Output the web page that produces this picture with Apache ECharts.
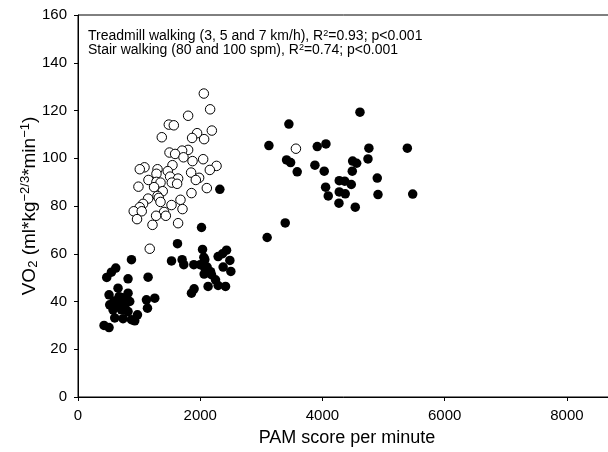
<!DOCTYPE html>
<html>
<head>
    <meta charset="UTF-8">
    <script type="text/javascript" src="https://cdn.jsdelivr.net/npm/echarts@6/dist/echarts.min.js"></script>
</head>
<body style="margin: 0;padding: 0;">
<div id="main" style="width: 608px;height:452px;"></div>
<script>
    // stair walking (open circles): [PAM score/min, VO2]
    var stairPoints = [
        [2059, 127.1], [2162, 120.5], [1802, 117.8], [1486, 114.1], [1568, 113.8], [2190, 111.6],
        [1949, 110.5], [1371, 108.8], [1867, 108.5], [2064, 108], [1802, 103.5], [1704, 103.2],
        [1497, 102.4], [1589, 101.8], [1726, 100.4], [2048, 99.6], [1874, 98.8], [1546, 97.1],
        [2267, 96.8], [1088, 96.2], [1011, 95.4], [1301, 95.4], [2157, 95.1], [1469, 94.6],
        [1851, 94], [1284, 93.5], [1507, 92.3], [1982, 91.8], [1153, 90.9], [1638, 91.5],
        [1928, 90.9], [1284, 90.1], [1350, 89.8], [1535, 89.8], [1622, 89.3], [989, 88.1],
        [1245, 87.9], [2108, 87.5], [1387, 86.2], [1857, 85.4], [1301, 84.2], [1147, 83.1],
        [1322, 83.4], [1677, 82.6], [1350, 81.7], [1065, 80.9], [1530, 80.4], [1011, 79.5],
        [1710, 78.7], [912, 77.8], [1043, 77.8], [1409, 77.5], [1278, 75.9], [1437, 75.9],
        [966, 74.5], [1638, 72.8], [1219, 72.1], [1174, 62.1], [3566, 104]
    ];
    // treadmill walking (filled circles)
    var treadmillPoints = [
        [875, 57.5], [618, 54], [547, 52.3], [470, 50.1], [819, 49.5], [1147, 50.2], [655, 45.6],
        [508, 42.8], [819, 43.5], [711, 41.7], [1120, 40.7], [1256, 41.4], [519, 38.6], [645, 38.9],
        [776, 38.9], [847, 40], [1137, 37.2], [573, 36.5], [711, 36.5], [819, 35.8], [973, 34.4],
        [601, 33.1], [737, 32.8], [875, 32.4], [929, 31.9], [426, 30], [508, 29.1],
        [590, 40.2], [765, 40.4], [672, 42], [690, 38], [760, 36.5],
        [2021, 71], [1628, 64.2], [1530, 57], [1704, 57.5], [1731, 55.4], [1895, 55.4], [2038, 61.8],
        [2075, 57.5], [1998, 55.4], [2075, 54], [2431, 61.5], [2293, 58.8], [2485, 57.2], [2375, 54.4],
        [2501, 52.6], [2064, 51.5], [2185, 51.2], [2250, 49.1], [2129, 46.3], [2293, 46.7], [2414, 46.3],
        [1900, 45.3], [1857, 43.5], [2321, 87], [2059, 58.5], [2365, 60], [2113, 54.4], [2169, 52.5],
        [3451, 114.3], [3124, 105.3], [3915, 104.9], [4057, 106], [3413, 99.3], [3479, 98.2],
        [3587, 94.3], [3877, 97.1], [4029, 94.6], [4052, 87.9], [4095, 84.2], [3391, 72.9],
        [3095, 66.8], [4614, 119.3], [4760, 104.2], [5389, 104.2], [4494, 98.8], [4560, 97.9],
        [4745, 99.7], [4488, 94.6], [4897, 91.7], [4275, 90.6], [4364, 90.4], [4472, 89],
        [4275, 85.9], [4373, 85.1], [4909, 84.8], [5477, 85], [4270, 81.2], [4537, 79.5]
    ];
    var noteLines = [
        'Treadmill walking (3, 5 and 7 km/h), R{sup|2}=0.93; p<0.001',
        'Stair walking (80 and 100 spm), R{sup|2}=0.74; p<0.001'
    ];

    var chart = echarts.init(document.getElementById('main'));
    var font = 'Liberation Sans, Arial, sans-serif';
    var supStyle = {fontSize: 9, verticalAlign: 'top', padding: [0, 0, 5, 0], fontFamily: font, fill: '#000'};

    var option = {
        animation: false,
        grid: {
            left: 78, top: 15, bottom: 55, width: 550,
            outerBoundsMode: 'none',
            show: true, borderColor: '#000', borderWidth: 1
        },
        xAxis: {
            type: 'value', min: 0, max: 9000, interval: 2000,
            name: 'PAM score per minute', nameLocation: 'middle', nameGap: 32,
            nameTextStyle: {fontSize: 18, color: '#000', fontFamily: font, padding: [0, 12, 0, 0]},
            axisLine: {lineStyle: {color: '#000'}},
            axisTick: {show: true, length: 4, lineStyle: {color: '#000'}},
            axisLabel: {fontSize: 15, color: '#000', fontFamily: font, margin: 11,
                formatter: function (v) { return v % 2000 === 0 ? String(v) : ''; }},
            splitLine: {show: false}
        },
        yAxis: {
            type: 'value', min: 0, max: 160, interval: 20,
            name: 'VO{sub|2} (ml*kg{sup|−2/3}*min{sup|−1})', nameLocation: 'middle', nameGap: 38,
            nameMoveOverlap: false,
            nameTextStyle: {
                fontSize: 19, color: '#000', fontFamily: font,
                rich: {
                    sub: {fontSize: 13, verticalAlign: 'bottom', padding: [7, 0, 0, 0], color: '#000', fontFamily: font},
                    sup: {fontSize: 13, verticalAlign: 'top', padding: [0, 0, 8, 0], color: '#000', fontFamily: font}
                }
            },
            axisLine: {show: true, lineStyle: {color: '#000'}},
            axisTick: {show: true, length: 4, lineStyle: {color: '#000'}},
            axisLabel: {fontSize: 15, color: '#000', fontFamily: font, margin: 11},
            splitLine: {show: false}
        },
        graphic: noteLines.map(function (t, i) {
            return {
                type: 'text', left: 88, top: 29 + i * 14,
                style: {text: t, fontSize: 14, fontFamily: font, fill: '#000', rich: {sup: supStyle}}
            };
        }),
        series: [
            {
                type: 'scatter', name: 'Stair walking', data: stairPoints, symbolSize: 9.5,
                itemStyle: {color: '#fff', borderColor: '#000', borderWidth: 1, opacity: 1}
            },
            {
                type: 'scatter', name: 'Treadmill walking', data: treadmillPoints, symbolSize: 9.5,
                itemStyle: {color: '#000', opacity: 1}
            }
        ]
    };
    chart.setOption(option);
</script>
</body>
</html>
